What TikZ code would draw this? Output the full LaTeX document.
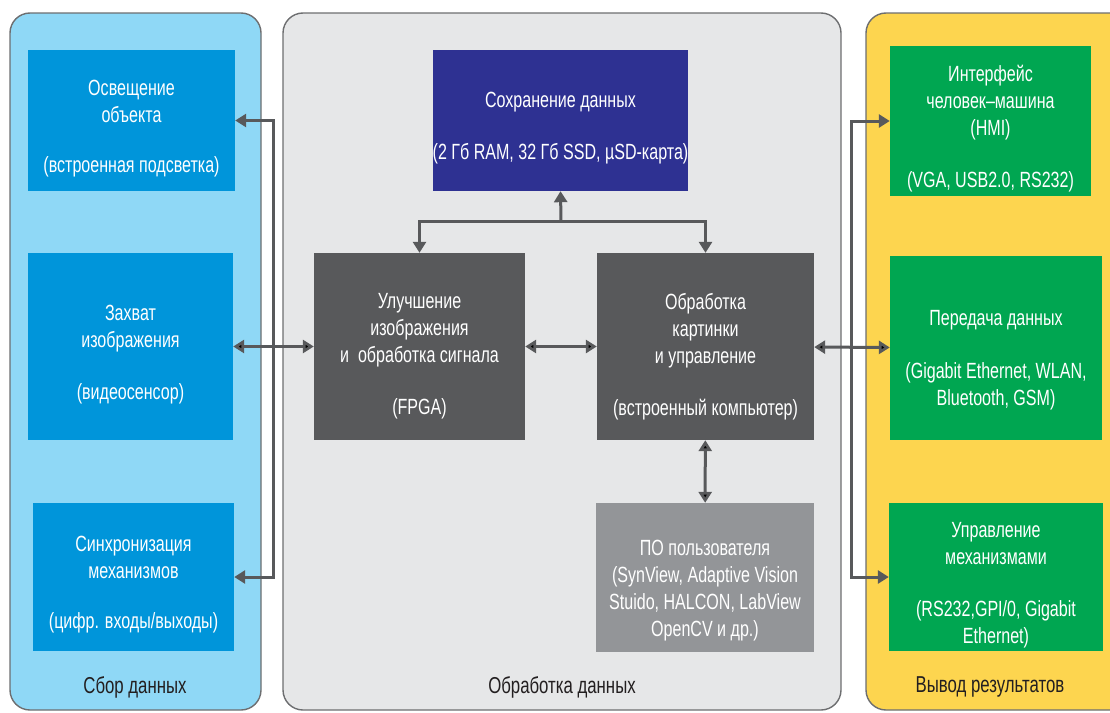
\documentclass[tikz,border=0pt]{standalone}
\usepackage{fontspec}
\setmainfont[FakeStretch=0.73]{Liberation Sans}
\usetikzlibrary{arrows.meta}

\definecolor{acqfill}{HTML}{8FD8F6}
\definecolor{procfill}{HTML}{E6E7E8}
\definecolor{outfill}{HTML}{FDD54F}
\definecolor{panelline}{HTML}{6D6E70}
\definecolor{blueblk}{HTML}{0095DA}
\definecolor{navyblk}{HTML}{2E3192}
\definecolor{darkblk}{HTML}{58595B}
\definecolor{greyblk}{HTML}{939598}
\definecolor{greenblk}{HTML}{00A651}
\definecolor{captext}{HTML}{231F20}

\tikzset{
  panel/.style={draw=panelline,line width=1.4pt,rounded corners=20pt,inner sep=0pt},
  blk/.style={inner sep=0pt},
  blktext/.style={text=white,align=center,inner sep=0pt,font=\fontsize{22}{27}\selectfont,yshift=-8pt},
  colcap/.style={text=captext,font=\fontsize{23}{26}\selectfont},
  link/.style={draw=darkblk,line width=3pt}
}

\begin{document}
\begin{tikzpicture}[x=1pt,y=-1pt,>={Triangle[length=11pt,width=13pt]}]
\useasboundingbox (0,0) rectangle (1110,712);

% three background columns
\node[panel,fill=acqfill,minimum width=251pt,minimum height=697pt]  (acq)  at (135.5,361.5) {};
\node[panel,fill=procfill,minimum width=558pt,minimum height=697pt] (proc) at (562,361.5)   {};
\node[panel,fill=outfill,minimum width=270pt,minimum height=697pt]  (out)  at (1001,361.5)  {};

\node[colcap] (acqcap)  at (135,687) {Сбор данных};
\node[colcap] (proccap) at (562,687) {Обработка данных};
\node[colcap] (outcap)  at (990,687) {Вывод результатов};

% data acquisition
\node[blk,fill=blueblk,minimum width=207pt,minimum height=141pt,
      label={[blktext]center:{Освещение\\объекта\\[23pt](встроенная подсветка)}}] (light) at (131.5,120.5) {};
\node[blk,fill=blueblk,minimum width=205pt,minimum height=187pt,
      label={[blktext]center:{Захват\\изображения\\[25pt](видеосенсор)}}] (capture) at (130.5,346.5) {};
\node[blk,fill=blueblk,minimum width=201pt,minimum height=148pt,
      label={[blktext]center:{Синхронизация\\механизмов\\[23pt](цифр. входы/выходы)}}] (sync) at (133.5,577) {};

% processing
\node[blk,fill=navyblk,minimum width=255pt,minimum height=141pt,
      label={[blktext]center:{Сохранение данных\\[25pt](2 Гб RAM, 32 Гб SSD, µSD-карта)}}] (store) at (560.5,120.5) {};
\node[blk,fill=darkblk,minimum width=211pt,minimum height=187pt,
      label={[blktext,yshift=-2pt]center:{Улучшение\\изображения\\и\ \ обработка сигнала\\[25pt](FPGA)}}] (fpga) at (419.5,346.5) {};
\node[blk,fill=darkblk,minimum width=217pt,minimum height=187pt,
      label={[blktext,yshift=-2pt]center:{Обработка\\картинки\\и управление\\[25pt](встроенный компьютер)}}] (cpu) at (705.5,346.5) {};
\node[blk,fill=greyblk,minimum width=218pt,minimum height=149pt,
      label={[blktext,yshift=-5pt]center:{ПО пользователя\\(SynView, Adaptive Vision\\Stuido, HALCON, LabView\\OpenCV и др.)}}] (soft) at (705,577.5) {};

% output
\node[blk,fill=greenblk,minimum width=201pt,minimum height=150pt,
      label={[blktext]center:{Интерфейс\\человек–машина\\(HMI)\\[25pt](VGA, USB2.0, RS232)}}] (hmi) at (990.5,121) {};
\node[blk,fill=greenblk,minimum width=212pt,minimum height=184pt,
      label={[blktext,yshift=-4pt]center:{Передача данных\\[26pt](Gigabit Ethernet, WLAN,\\Bluetooth, GSM)}}] (comm) at (996,348) {};
\node[blk,fill=greenblk,minimum width=214pt,minimum height=148pt,
      label={[blktext]center:{Управление\\механизмами\\[25pt](RS232,GPI/0, Gigabit\\Ethernet)}}] (ctrl) at (996,577) {};

\coordinate (lbus)  at (273,347);
\coordinate (rbus)  at (851,347);
\coordinate (split) at (561,221);

\draw[link,<->] (light.east) -| (lbus) |- (sync.east);
\draw[link,<->] (hmi.west) -| (rbus) |- (ctrl.west);
\draw[link,<->] (fpga.north) |- (split) -| (cpu.north);
\draw[link,->]  (split) -- (store.south);
\path[link,<->] (capture) edge (fpga)
                (fpga)    edge (cpu)
                (cpu)     edge (comm)
                (cpu)     edge (soft);
\end{tikzpicture}
\end{document}
